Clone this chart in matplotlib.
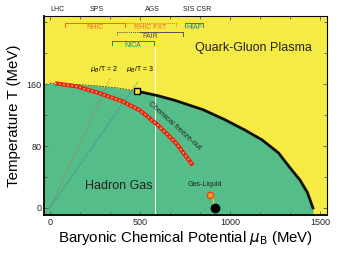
import numpy as np
import matplotlib
matplotlib.use("Agg")
import matplotlib.pyplot as plt

plt.rcParams['font.family'] = ['Liberation Sans', 'DejaVu Sans']

# crossover (dashed) and first-order phase boundary
cross_mu = [0, 120, 250, 380, 483]
cross_T = [161, 160, 158, 155, 151]
pb_mu = [483, 600, 694, 850, 972, 1080, 1178, 1270, 1333, 1389, 1430, 1461]
pb_T = [151, 145, 139, 127, 114, 101, 88, 71, 52, 36, 20, 0]

# chemical freeze-out curve
fo_mu = [28, 150, 278, 400, 500, 600, 700, 794]
fo_T = [161, 157, 148, 138, 126, 107, 84, 55]

# critical point, gas-liquid
cp_mu, cp_T = 483, 151
gl_mu = [889, 917]
gl_T = [17, 0]

# facility ranges at the top
facilities = ["RHIC", "RHIC FXT", "FAIR", "NICA", "HIAF"]
fac_lo = [83, 417, 372, 344, 750]
fac_hi = [417, 700, 739, 578, 850]
fac_T = [239, 239, 227, 216, 239]
fac_col = ["#f0682a", "#f0682a", "#555555", "#2f7a9a", "#2f7a9a"]

top_labels = ["LHC", "SPS", "AGS", "SIS CSR"]
top_mu = [40, 260, 570, 820]

yellow = "#f6eb45"
green = "#55bd88"

fig = plt.figure(figsize=(3.49, 2.58), dpi=100)
ax = fig.add_axes([0.126, 0.167, 0.811, 0.771])
ax.set_xlim(-33, 1539)
ax.set_ylim(-9, 248)
ax.set_facecolor(yellow)

bmu = [-33] + cross_mu + pb_mu[1:]
bT = [161] + cross_T + pb_T[1:]
ax.fill_between(bmu, bT, -9, color=green, lw=0, zorder=1)

# white line
ax.plot([583, 583], [-9, 208], color="white", lw=0.8, zorder=2)

# mu/T lines
tt = np.array([0, 168])
ax.plot(2 * tt, tt, color="#e0603a", lw=0.7, ls=(0, (1, 1.5)), zorder=3)
tt3 = np.array([0, 163])
ax.plot(3 * tt3, tt3, color="#3070b0", lw=0.7, ls=(0, (1, 1.5)), zorder=3)
ax.text(300, 172, r"$\mu_B$/T = 2", fontsize=5, ha="center", va="bottom", zorder=6)
ax.text(500, 172, r"$\mu_B$/T = 3", fontsize=5, ha="center", va="bottom", zorder=6)

ax.plot(cross_mu, cross_T, color="#224433", lw=0.6, ls=(0, (2, 1.5)), zorder=4)
ax.plot(pb_mu, pb_T, color="#111111", lw=2.0, zorder=4)

ax.plot(fo_mu, fo_T, color="#e8221c", lw=3.0, solid_capstyle="butt", zorder=5)
ax.plot(fo_mu, fo_T, color="#f6e040", lw=1.0, ls=(0, (1, 2)), zorder=5)
ax.text(690, 106, "Chemical freeze-out", fontsize=5.5, rotation=-42,
        ha="center", va="center", color="#222222", zorder=6)

ax.plot(cp_mu, cp_T, marker="s", ms=5, mfc="#f4e830", mec="black", mew=1, zorder=7)

ax.plot([889, 905, 917], [17, 12, 0], color="#f5d020", lw=1.0, zorder=5)
ax.plot(gl_mu[0], gl_T[0], "o", ms=4.5, mfc="#f7a020", mec="#e84020", mew=1, zorder=6)
ax.plot(gl_mu[1], gl_T[1], "o", ms=6, color="black", zorder=6)
ax.text(860, 28, "Gas-Liquid", fontsize=5, ha="center", color="#222222", zorder=6)

ax.text(1130, 207, "Quark-Gluon Plasma", fontsize=9, ha="center", va="center",
        color="#222222", zorder=6)
ax.text(380, 28, "Hadron Gas", fontsize=9, ha="center", va="center",
        color="#222222", zorder=6)

for name, lo, hi, T, c in zip(facilities, fac_lo, fac_hi, fac_T, fac_col):
    if name == "RHIC FXT":
        ax.plot([lo, hi], [T, T], color=c, lw=0.7, ls=(0, (1, 1)), zorder=6)
        ax.plot([hi, hi], [T, T - 5], color=c, lw=0.7, ls=(0, (1, 1)), zorder=6)
    elif name == "FAIR":
        ax.plot([lo, 500], [T, T], color=c, lw=0.7, ls=(0, (1, 1)), zorder=6)
        ax.plot([lo, lo], [T, T - 5], color=c, lw=0.7, ls=(0, (1, 1)), zorder=6)
        ax.plot([500, hi], [T, T], color=c, lw=0.7, zorder=6)
        ax.plot([hi, hi], [T, T - 5], color=c, lw=0.7, zorder=6)
    else:
        ax.plot([lo, hi], [T, T], color=c, lw=0.7, zorder=6)
        ax.plot([lo, lo], [T, T - 5], color=c, lw=0.7, zorder=6)
        ax.plot([hi, hi], [T, T - 5], color=c, lw=0.7, zorder=6)
    ax.text((lo + hi) / 2, T - 1.5, name, fontsize=5, color=c, ha="center",
            va="top", zorder=6)

ax.set_xticks([0, 500, 1000, 1500])
ax.set_xticks(np.arange(0, 1540, 500 / 3), minor=True)
ax.set_yticks([0, 80, 160])
ax.set_yticks([40, 120, 200, 240], minor=True)
ax.tick_params(which="both", direction="in", top=True, right=True,
               labelsize=6.5, length=3, width=0.6, colors="#555555",
               labelcolor="#222222", pad=2)
ax.tick_params(which="minor", length=2)
for s in ["left", "bottom"]:
    ax.spines[s].set_linewidth(1.3)
for s in ["top", "right"]:
    ax.spines[s].set_linewidth(0.8)

for lab, m in zip(top_labels, top_mu):
    ax.text(m, 252, lab, fontsize=5, ha="center", va="bottom", color="#222222",
            clip_on=False)

ax.set_xlabel(r"Baryonic Chemical Potential $\mu_{\rm B}$ (MeV)", fontsize=10.8, labelpad=2)
ax.set_ylabel("Temperature T (MeV)", fontsize=10.8, labelpad=4)

fig.savefig("out.png", dpi=100)
